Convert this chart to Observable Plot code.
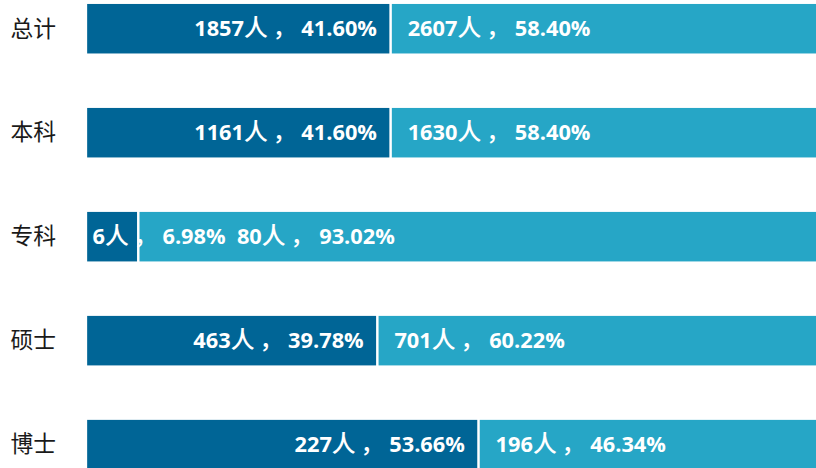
<!DOCTYPE html>
<html><head><meta charset="utf-8">
<script src="https://cdn.jsdelivr.net/npm/d3@7"></script>
<script src="https://cdn.jsdelivr.net/npm/@observablehq/plot@0.6"></script>
<style>html,body{margin:0;padding:0;overflow:hidden;background:#fff}</style>
</head><body><div id="chart"></div>
<script>
const categories = ["总计","本科","专科","硕士","博士"];
const countA = [1857,1161,6,463,227];
const pctA = [41.60,41.60,6.98,39.78,53.66];
const countB = [2607,1630,80,701,196];
const pctB = [58.40,58.40,93.02,60.22,46.34];

const colorA = "#006596";
const colorB = "#26a6c6";

const rows = categories.map((c, i) => ({
  cat: c,
  a: pctA[i],
  b: pctB[i],
  labelA: `${countA[i]}人，${pctA[i].toFixed(2)}%`,
  labelB: `${countB[i]}人，${pctB[i].toFixed(2)}%`
}));
const wide = rows.filter(d => d.a >= 15);
const narrow = rows.filter(d => d.a < 15);

const labelFont = "'Open Sans','Noto Sans CJK SC',sans-serif";
const txt = {fill: "white", fontWeight: "bold", fontSize: 22};

const chart = Plot.plot({
  width: 824,
  height: 474,
  marginLeft: 88,
  marginRight: 0,
  marginTop: 4,
  marginBottom: 0,
  style: {fontFamily: labelFont, background: "#fff"},
  x: {domain: [0, 100], axis: null},
  y: {domain: categories, paddingInner: 0.524, paddingOuter: 0, label: null},
  marks: [
    Plot.barX(rows, {y: "cat", x1: 0, x2: "a", fill: colorA, insetRight: 1}),
    Plot.barX(rows, {y: "cat", x1: "a", x2: d => d.a + d.b, fill: colorB, insetLeft: 1.5}),
    Plot.text(wide, {y: "cat", x: "a", text: "labelA", textAnchor: "end", dx: -14, ...txt}),
    Plot.text(wide, {y: "cat", x: "a", text: "labelB", textAnchor: "start", dx: 17, ...txt}),
    Plot.text(narrow, {y: "cat", x: 0, text: d => d.labelA + "  " + d.labelB, textAnchor: "start", dx: 5, ...txt}),
    Plot.axisY({tickSize: 0, tickPadding: 32, fontSize: 23, fill: "#1a1a1a", fontFamily: "'Noto Sans CJK SC',sans-serif", label: null})
  ]
});

// full-width CJK glyphs in the value labels are set wider, as in the reference
d3.select(chart).selectAll("g[aria-label='text'] text").each(function() {
  const s = this.textContent;
  const parts = s.match(/[\u3000-\u9fff\uff00-\uffef]+|[^\u3000-\u9fff\uff00-\uffef]+/g) || [];
  this.textContent = "";
  const el = d3.select(this);
  parts.forEach(p => {
    const ts = el.append("tspan").text(p);
    if (/[\u3000-\u9fff\uff00-\uffef]/.test(p)) {
      ts.attr("font-size", 24).attr("font-weight", 500).style("letter-spacing", "5px");
    }
  });
});

document.getElementById("chart").append(chart);
</script>
</body></html>
